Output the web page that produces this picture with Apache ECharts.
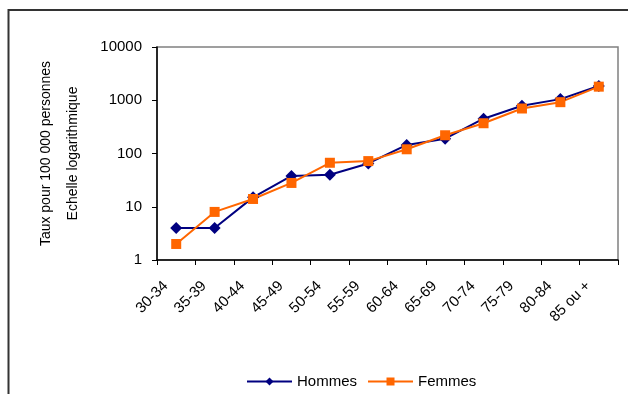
<!DOCTYPE html>
<html>
<head>
<meta charset="utf-8">
<script src="https://cdn.jsdelivr.net/npm/echarts@6/dist/echarts.min.js"></script>
<style>
  html, body { margin: 0; padding: 0; background: #fff; }
  #chart { width: 628px; height: 394px; }
</style>
</head>
<body>
<div id="chart"></div>
<script>
// Taux pour 100 000 personnes par groupe d'age (echelle log)
const ageGroups = ["30-34", "35-39", "40-44", "45-49", "50-54", "55-59",
  "60-64", "65-69", "70-74", "75-79", "80-84", "85 ou +"];
const hommes = [4, 4, 15, 38, 40, 65, 145, 190, 450, 790, 1050, 1850];
const femmes = [2, 8, 14, 28, 67, 72, 120, 220, 370, 700, 920, 1800];

(function() {
  const font = "Liberation Sans, Arial, sans-serif";

  const option = {
    animation: false,
    textStyle: { fontFamily: font },
    grid: {
      left: 157,
      right: 10,
      top: 47,
      bottom: 134,
      show: true,
      borderColor: "#808080",
      borderWidth: 1.5,
    },
    legend: {
      left: 241,
      top: 369,
      itemWidth: 45,
      itemHeight: 10,
      itemGap: 10,
      textStyle: { fontSize: 15, color: "#000", fontFamily: font },
      data: ["Hommes", "Femmes"],
    },
    xAxis: {
      type: "category",
      data: ageGroups,
      boundaryGap: true,
      axisLine: { lineStyle: { color: "#000", width: 1.5 } },
      axisTick: { show: true, interval: 0, length: 5, lineStyle: { color: "#000" } },
      axisLabel: {
        interval: 0,
        rotate: 45,
        fontSize: 15,
        color: "#000",
        margin: 13,
        padding: [0, 15, 0, 0],
      },
      splitLine: { show: false },
    },
    yAxis: {
      type: "log",
      logBase: 10,
      min: 1,
      max: 10000,
      name: "Taux pour 100 000 personnes\nEchelle logarithmique",
      nameLocation: "middle",
      nameRotate: 90,
      nameGap: 70,
      nameTextStyle: { fontSize: 14, color: "#000", lineHeight: 27, fontFamily: font },
      axisLine: { show: true, lineStyle: { color: "#000", width: 1.5 } },
      axisTick: { show: true, length: 5, lineStyle: { color: "#000" } },
      axisLabel: {
        fontSize: 15,
        color: "#000",
        margin: 15,
        formatter: (v) => String(Math.round(v)),
      },
      splitLine: { show: false },
      minorTick: { show: false },
    },
    series: [
      {
        name: "Hommes",
        type: "line",
        data: hommes,
        symbol: "diamond",
        symbolSize: 12,
        itemStyle: { color: "#000080" },
        lineStyle: { color: "#000080", width: 2 },
      },
      {
        name: "Femmes",
        type: "line",
        data: femmes,
        symbol: "rect",
        symbolSize: 10,
        itemStyle: { color: "#ff6600" },
        lineStyle: { color: "#ff6600", width: 2 },
      },
    ],
    graphic: [
      {
        type: "rect",
        shape: { x: 8.5, y: 10, width: 700, height: 500 },
        style: { fill: "none", stroke: "#333", lineWidth: 2 },
        silent: true,
      },
    ],
  };

  const chart = echarts.init(document.getElementById("chart"));
  chart.setOption(option);
  window.addEventListener("resize", () => chart.resize());
})();
</script>
</body>
</html>
